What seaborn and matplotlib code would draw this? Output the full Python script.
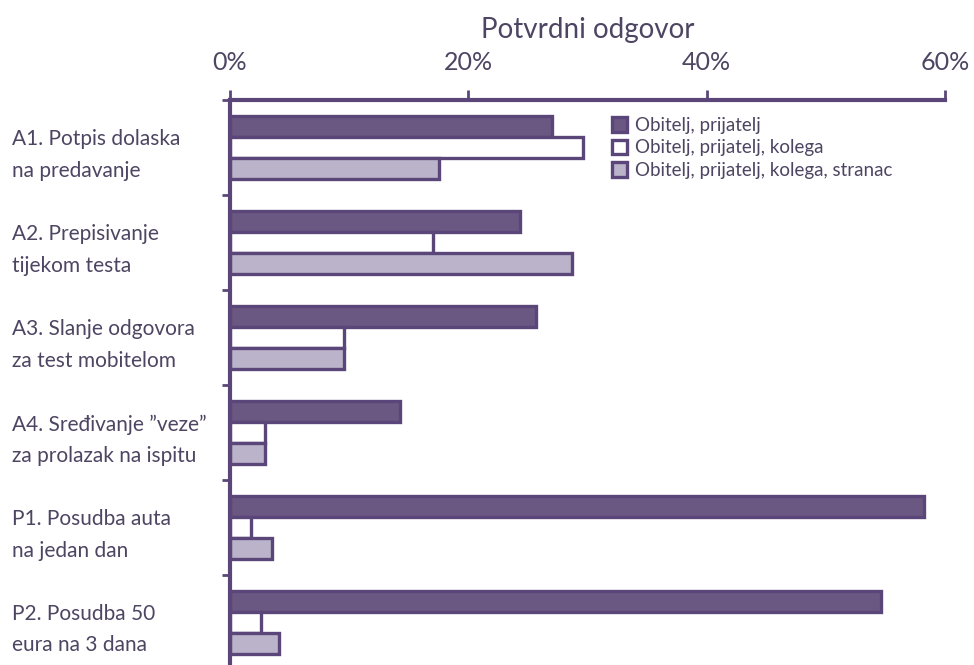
import pandas as pd
import seaborn as sns
import matplotlib.pyplot as plt
from matplotlib.ticker import FixedLocator, PercentFormatter

# Survey answers (share of "yes") per situation and circle of people
situations = [
    "A1. Potpis dolaska\nna predavanje",
    "A2. Prepisivanje\ntijekom testa",
    "A3. Slanje odgovora\nza test mobitelom",
    "A4. Sređivanje \u201dveze\u201d\nza prolazak na ispitu",
    "P1. Posudba auta\nna jedan dan",
    "P2. Posudba 50\neura na 3 dana",
]
groups = [
    "Obitelj, prijatelj",
    "Obitelj, prijatelj, kolega",
    "Obitelj, prijatelj, kolega, stranac",
]
family_friend = [27.0, 24.3, 25.7, 14.3, 58.2, 54.6]
plus_colleague = [29.6, 17.0, 9.6, 2.9, 1.8, 2.6]
plus_stranger = [17.5, 28.7, 9.6, 2.9, 3.5, 4.1]

rows = []
for values, grp in zip([family_friend, plus_colleague, plus_stranger], groups):
    for sit, v in zip(situations, values):
        rows.append({"Situacija": sit, "Skupina": grp, "Udio": v})
df = pd.DataFrame(rows)

text_col = "#4d4562"
edge_col = "#5b4679"
palette = ["#6a5189", "#ffffff", "#b9b0cc"]

sns.set_style("white")
plt.rcParams["font.family"] = ["Lato", "DejaVu Sans"]

fig = plt.figure(figsize=(9.74, 6.65), dpi=100)
ax = fig.add_axes([230 / 974, 0.0, 715 / 974, 1 - 100 / 665])

sns.barplot(data=df, y="Situacija", x="Udio", hue="Skupina", palette=palette,
            orient="h", width=0.66, gap=0, edgecolor=edge_col, linewidth=2.4,
            errorbar=None, ax=ax)

ax.set_xlim(0, 60)
ax.set_ylim(5.45, -0.5)

# top axis
ax.xaxis.set_ticks_position("top")
ax.xaxis.set_label_position("top")
ax.set_xticks([0, 20, 40, 60])
ax.xaxis.set_major_formatter(PercentFormatter(decimals=0))
ax.tick_params(axis="x", direction="out", length=7, width=2, color=edge_col,
               labelsize=18, labelcolor=text_col, pad=12)
ax.set_xlabel("Potvrdni odgovor", fontsize=20, color=text_col, labelpad=9)

# left axis: labels at group centres, small ticks between groups
ax.set_ylabel("")
ax.tick_params(axis="y", which="major", length=0, labelsize=15,
               labelcolor=text_col, pad=157)
for lab in ax.get_yticklabels():
    lab.set_horizontalalignment("left")
    lab.set_linespacing(1.7)
ax.yaxis.set_minor_locator(FixedLocator([-0.5, 0.5, 1.5, 2.5, 3.5, 4.5]))
ax.tick_params(axis="y", which="minor", direction="out", length=6, width=2,
               color=edge_col, left=True)

for side in ["right", "bottom"]:
    ax.spines[side].set_visible(False)
for side in ["top", "left"]:
    ax.spines[side].set_color(edge_col)
    ax.spines[side].set_linewidth(3)

handles, labels = ax.get_legend_handles_labels()
ax.legend(handles, labels, loc="upper left", bbox_to_anchor=(0.51, 1.0),
          frameon=False, fontsize=13.5, handlelength=0.85, handleheight=0.85,
          handletextpad=0.4, labelspacing=0.3, labelcolor=text_col)

fig.savefig("out.png", dpi=100)
